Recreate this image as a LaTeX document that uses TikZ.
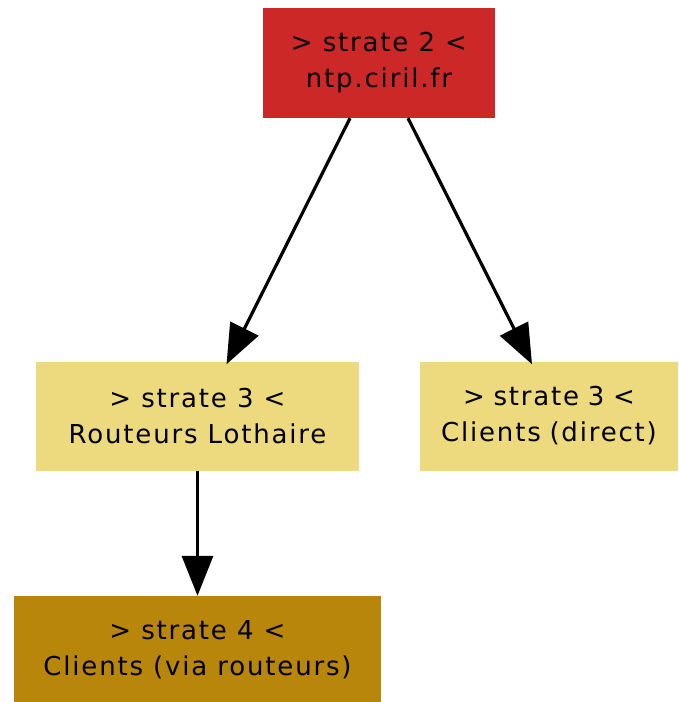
\documentclass[tikz,border=0pt]{standalone}
\usepackage{fontspec}
\setmainfont[LetterSpace=7]{DejaVu Sans}
\usetikzlibrary{arrows.meta}
\definecolor{cred}{HTML}{CD2828}
\definecolor{cyel}{HTML}{EDDA7E}
\definecolor{cgold}{HTML}{B8860B}
\tikzset{
  box/.style={rectangle, inner sep=0pt, align=center, font=\fontsize{26}{36}\selectfont, text=black},
  arr/.style={line width=3.2pt, -{Triangle[length=40pt,width=31pt]}, black}
}
\begin{document}
\begin{tikzpicture}[x=1pt,y=-1pt]
\useasboundingbox (0,0) rectangle (678,702);
\node[box, fill=cred, minimum width=232pt, minimum height=110pt] (top) at (379,63) {> strate 2 <\\ntp.ciril.fr};
\node[box, fill=cyel, minimum width=323pt, minimum height=109pt] (left) at (197.5,416) {> strate 3 <\\Routeurs Lothaire};
\node[box, fill=cyel, minimum width=258pt, minimum height=109pt, text width=258pt] (right) at (549,416) {> strate 3 <\\Clients (direct)};
\node[box, fill=cgold, minimum width=367pt, minimum height=108pt] (bot) at (197.5,650) {> strate 4 <\\Clients (via routeurs)};
\draw[arr] ([xshift=-29pt]top.south) -- ([xshift=29pt,yshift=-3pt]left.north);
\draw[arr] ([xshift=29pt]top.south) -- ([xshift=-17pt,yshift=-3pt]right.north);
\draw[arr] (left.south) -- (bot.north);
\end{tikzpicture}
\end{document}
